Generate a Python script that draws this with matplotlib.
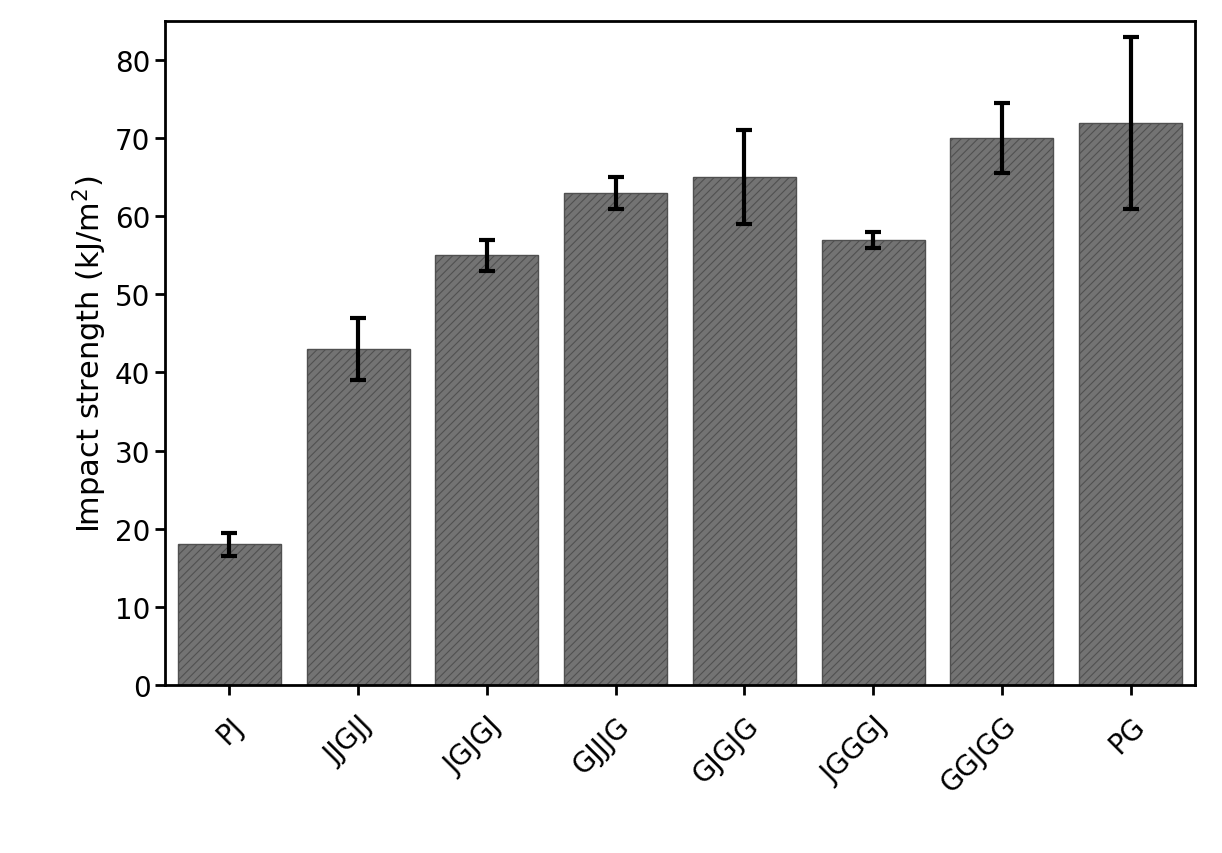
import matplotlib
matplotlib.use("Agg")
from matplotlib import pyplot as plt

samples = ["PJ", "JJGJJ", "JGJGJ", "GJJJG", "GJGJG", "JGGGJ", "GGJGG", "PG"]
strength = [18, 43, 55, 63, 65, 57, 70, 72]
errors = [1.5, 4, 2, 2, 6, 1, 4.5, 11]

plt.rcParams['hatch.color'] = '#4a4a4a'
plt.rcParams['hatch.linewidth'] = 0.8
fig = plt.figure(figsize=(12.22, 8.54), dpi=100)
ax = fig.add_axes([0.135, 0.197, 0.843, 0.777])

xs = list(range(len(samples)))
ax.bar(xs, strength, width=0.8, color='#737373', edgecolor='#505050',
       hatch='////', linewidth=1)
ax.errorbar(xs, strength, yerr=errors, fmt='none', ecolor='black',
            elinewidth=3, capsize=6, capthick=3)

ax.set_xlim(-0.5, 7.5)
ax.set_ylim(0, 85)
ax.set_yticks(range(0, 81, 10))
ax.set_xticks(xs)
ax.set_xticklabels(samples, rotation=45, ha='right', rotation_mode='anchor')
ax.tick_params(axis='both', labelsize=20, width=2, length=7, direction='out')
ax.tick_params(axis='x', pad=12)
for s in ax.spines.values():
    s.set_linewidth(2)
ax.set_ylabel(r"Impact strength $\mathregular{(kJ/m^2)}$", fontsize=22)

fig.savefig("out.png", dpi=100)
